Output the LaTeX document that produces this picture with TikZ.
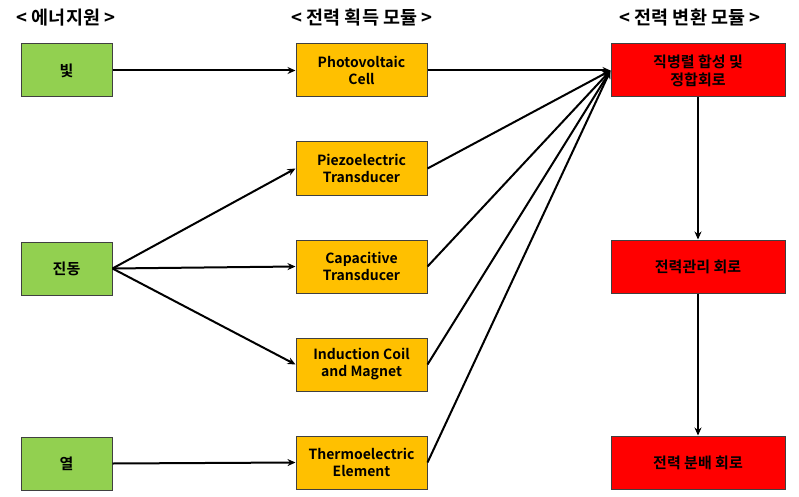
\documentclass[tikz,border=0pt]{standalone}
\usepackage{fontspec}
\setmainfont{Noto Sans CJK KR}[BoldFont={* Bold}]
\usetikzlibrary{arrows.meta}
\definecolor{cgreen}{HTML}{92D050}
\definecolor{corange}{HTML}{FFC000}
\definecolor{cred}{HTML}{FF0000}
\definecolor{cborder}{HTML}{404040}
\tikzset{
  box/.style={draw=cborder, line width=1pt, minimum height=53pt, align=center, font=\bfseries\fontsize{14}{17}\selectfont, inner sep=1pt},
  kor/.style={font=\bfseries\fontsize{15}{18}\selectfont},
  src/.style={box, kor, fill=cgreen, minimum width=91pt},
  harv/.style={box, fill=corange, minimum width=131pt},
  conv/.style={box, kor, fill=cred, minimum width=174pt},
  hdr/.style={font=\bfseries\fontsize{18.5}{20}\selectfont},
  arr/.style={line width=2pt, -{Stealth[length=8pt,width=7pt]}}
}
\begin{document}
\begin{tikzpicture}[x=1pt,y=-1pt]
\useasboundingbox (0,0) rectangle (799,497);
\node[hdr] (h1) at (66,18) {< 에너지원 >};
\node[hdr] (h2) at (362,18) {< 전력 획득 모듈 >};
\node[hdr] (h3) at (690,18) {< 전력 변환 모듈 >};

\node[src] (light) at (66.5,70.5) {빛};
\node[src] (vib) at (66.5,268.5) {진동};
\node[src] (heat) at (66.5,463.5) {열};

\node[harv] (pv) at (361.5,70.5) {Photovoltaic\\Cell};
\node[harv] (pz) at (361.5,168.5) {Piezoelectric\\Transducer};
\node[harv] (cp) at (361.5,266.5) {Capacitive\\Transducer};
\node[harv] (ic) at (361.5,364.5) {Induction Coil\\and Magnet};
\node[harv] (te) at (361.5,462.5) {Thermoelectric\\Element};

\node[conv] (mt) at (698,70.5) {직병렬 합성 및\\정합회로};
\node[conv] (pm) at (698,266.5) {전력관리 회로};
\node[conv] (pd) at (698,462.5) {전력 분배 회로};

\draw[arr] (light.east) -- (pv.west);
\draw[arr] (vib.east) -- (pz.west);
\draw[arr] (vib.east) -- (cp.west);
\draw[arr] (vib.east) -- (ic.west);
\draw[arr] (heat.east) -- (te.west);

\draw[arr] (pv.east) -- (mt.west);
\draw[arr] (pz.east) -- (mt.west);
\draw[arr] (cp.east) -- (mt.west);
\draw[arr] (ic.east) -- (mt.west);
\draw[arr] (te.east) -- (mt.west);

\draw[arr] (mt.south) -- (pm.north);
\draw[arr] (pm.south) -- (pd.north);
\end{tikzpicture}
\end{document}
